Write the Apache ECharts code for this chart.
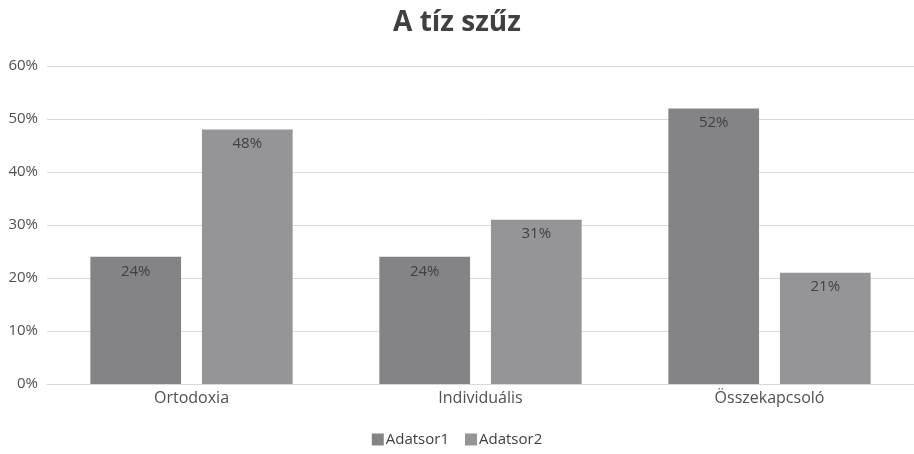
<!DOCTYPE html>
<html>
<head>
<meta charset="utf-8">
<script src="https://cdn.jsdelivr.net/npm/echarts@6/dist/echarts.min.js"></script>
<style>
  html, body { margin: 0; padding: 0; background: #fff; }
  #chart { width: 914px; height: 454px; }
</style>
</head>
<body>
<div id="chart"></div>
<script>
// Chart data
var categories = ['Ortodoxia', 'Individuális', 'Összekapcsoló'];
var seriesNames = ['Adatsor1', 'Adatsor2'];
var adatsor1 = [0.24, 0.24, 0.52];
var adatsor2 = [0.48, 0.31, 0.21];
var yTicks = [0, 0.1, 0.2, 0.3, 0.4, 0.5, 0.6];

var font = '"Open Sans", "Noto Sans", sans-serif';
var pct = function (v) { return Math.round(v * 100) + '%'; };

var chart = echarts.init(document.getElementById('chart'), null, { renderer: 'canvas' });

function barSeries(name, data, color) {
  return {
    name: name,
    type: 'bar',
    data: data,
    barGap: '23%',
    barCategoryGap: '30%',
    itemStyle: { color: color },
    label: {
      show: true,
      position: 'insideTop',
      distance: 7,
      color: '#404040',
      fontSize: 15,
      fontFamily: font,
      formatter: function (p) { return pct(p.value); }
    }
  };
}

chart.setOption({
  animation: false,
  title: {
    text: 'A tíz szűz',
    left: 'center',
    top: 4,
    textStyle: { fontFamily: font, fontSize: 28, fontWeight: 'bold', color: '#404040' }
  },
  legend: {
    data: seriesNames,
    bottom: 2,
    left: 'center',
    itemWidth: 12,
    itemHeight: 12,
    itemGap: 16,
    icon: 'rect',
    textStyle: { fontFamily: font, fontSize: 15, color: '#404040', padding: [0, 0, 0, -3] }
  },
  grid: { left: 47, right: 0, top: 66, bottom: 70, containLabel: false },
  xAxis: {
    type: 'category',
    data: categories,
    axisTick: { show: false },
    axisLine: { show: true, lineStyle: { color: '#d9d9d9', width: 1 } },
    axisLabel: { fontFamily: font, fontSize: 16, color: '#505050', margin: 6 }
  },
  yAxis: {
    type: 'value',
    min: yTicks[0],
    max: yTicks[yTicks.length - 1],
    interval: 0.1,
    axisLine: { show: false },
    axisTick: { show: false },
    splitLine: { lineStyle: { color: '#d9d9d9', width: 1 } },
    axisLabel: {
      fontFamily: font, fontSize: 15, color: '#505050', margin: 9,
      formatter: function (v) { return pct(v); }
    }
  },
  series: [
    barSeries(seriesNames[0], adatsor1, '#848487'),
    barSeries(seriesNames[1], adatsor2, '#959598')
  ]
});
</script>
</body>
</html>
